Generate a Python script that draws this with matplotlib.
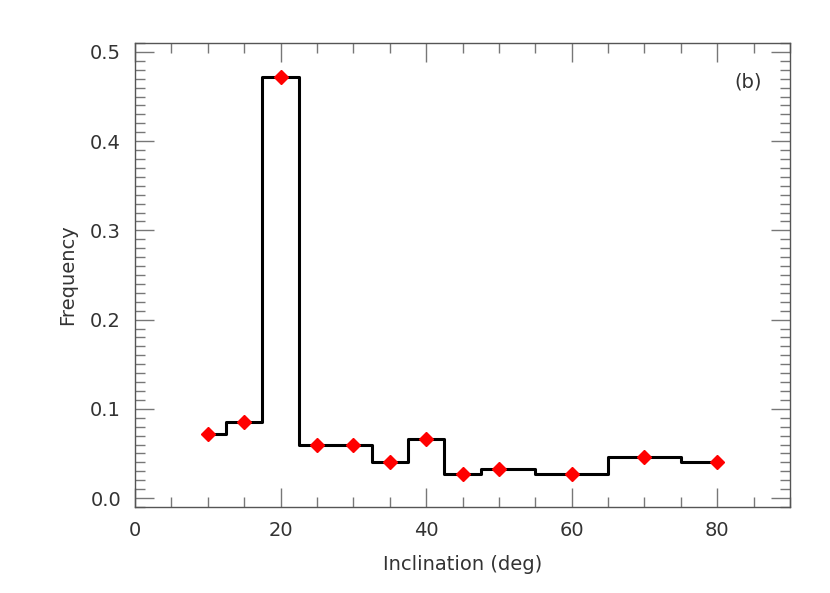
import matplotlib
matplotlib.use("Agg")
import matplotlib.pyplot as plt
from matplotlib.ticker import MultipleLocator

inclination = [10, 15, 20, 25, 30, 35, 40, 45, 50, 60, 70, 80]
frequency = [0.072, 0.085, 0.472, 0.059, 0.059, 0.040, 0.066, 0.027, 0.033, 0.027, 0.046, 0.040]

plt.rcParams['font.family'] = ['DejaVu Sans']
fig = plt.figure(figsize=(8.3, 5.93), dpi=100)
ax = fig.add_axes([135/830, 1 - 507/593, 655/830, 464/593])

ax.step(inclination, frequency, where='mid', color='black', lw=2.2, zorder=2)
ax.plot(inclination, frequency, linestyle='none', marker='D', color='red', ms=7.5, zorder=3)

ax.set_xlim(0, 90)
ax.set_ylim(-0.01, 0.51)
ax.xaxis.set_major_locator(MultipleLocator(20))
ax.xaxis.set_minor_locator(MultipleLocator(5))
ax.yaxis.set_major_locator(MultipleLocator(0.1))
ax.yaxis.set_minor_locator(MultipleLocator(0.01))
ax.yaxis.set_major_formatter(matplotlib.ticker.FormatStrFormatter('%.1f'))

for s in ax.spines.values():
    s.set_color('#555555')
    s.set_linewidth(1.0)
ax.tick_params(which='both', direction='in', top=True, right=True, color='#777777', labelcolor='#333333', labelsize=14)
ax.tick_params(which='major', length=14, width=1.0, pad=10)
ax.tick_params(which='minor', length=7, width=1.0)

ax.set_xlabel('Inclination (deg)', fontsize=14, color='#333333', labelpad=11)
ax.set_ylabel('Frequency', fontsize=14, color='#333333', labelpad=9)
ax.text(0.936, 0.916, '(b)', transform=ax.transAxes, fontsize=14, ha='center', va='center', color='#333333')

fig.savefig('out.png', dpi=100)
